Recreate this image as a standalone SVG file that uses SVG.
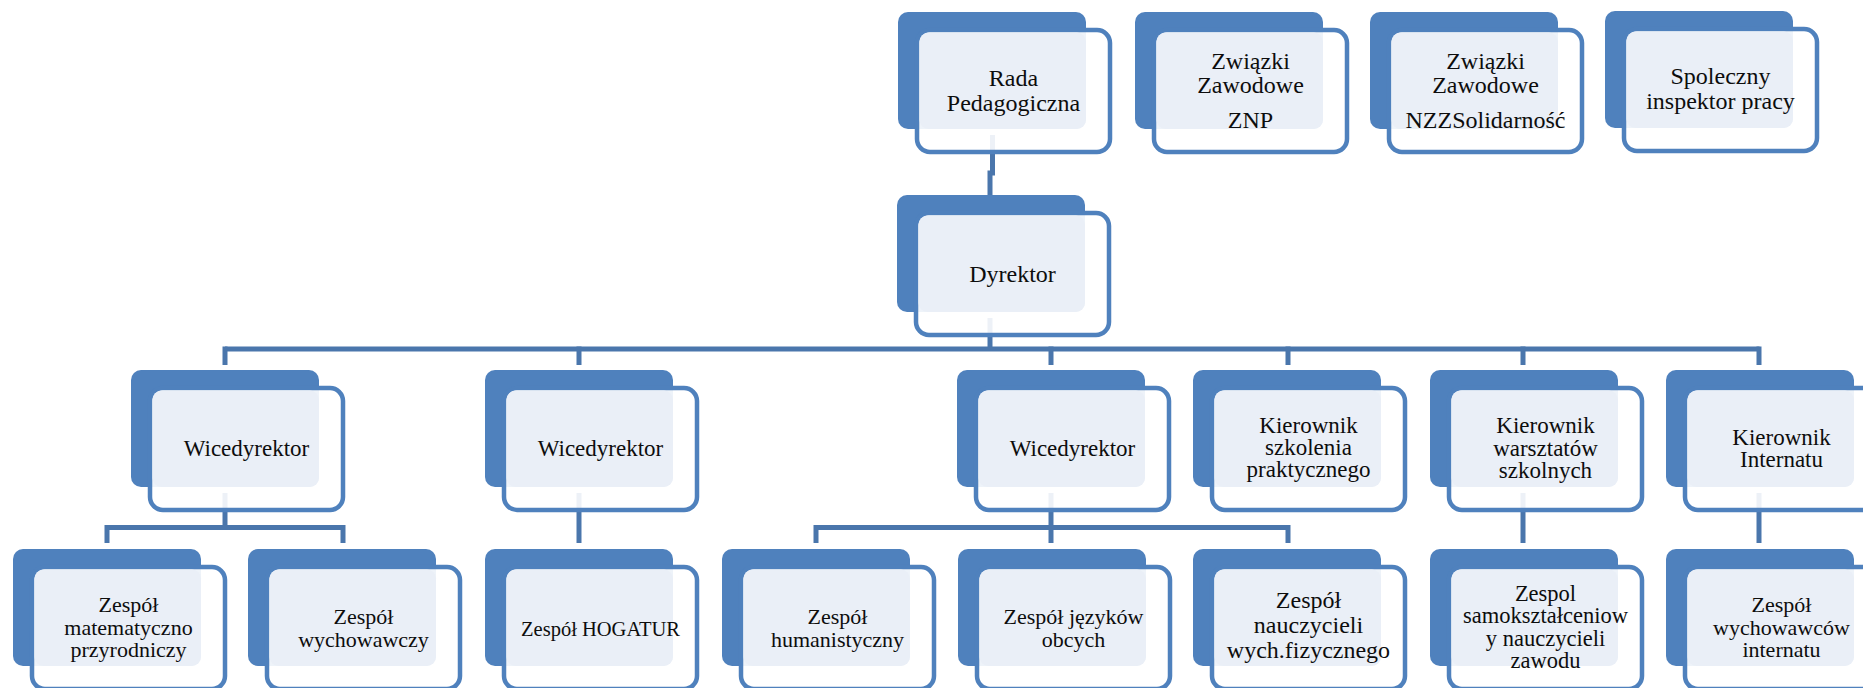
<svg xmlns="http://www.w3.org/2000/svg" width="1863" height="688" viewBox="0 0 1863 688">
<style>
.dk{fill:#4F81BD}
.ol{fill:#fff;fill-opacity:.9;stroke:#4F81BD;stroke-width:4.5}
.lt{fill:#EAEFF7}
.t{font-family:"Liberation Serif","Times New Roman",serif;fill:#0d0d0d;text-anchor:middle}
.c{stroke:#4A76AC;stroke-width:5;fill:none}
.s24{font-size:24px}.s23{font-size:23px}.s22{font-size:22px}
</style>
<defs>
<g id="box">
<rect class="dk" x="0" y="0" width="188" height="117" rx="10"/>
<rect class="ol" x="19" y="18" width="193" height="122" rx="13"/>
<rect class="lt" x="21.5" y="20.5" width="166.5" height="96.5" rx="9"/>
</g>
</defs>
<rect width="1863" height="688" fill="#fff"/>
<g id="connectors" class="c">
<path d="M992.5 135V173H990V197"/>
<path d="M990 318V349"/>
<path d="M225 349H1759.5"/>
<path d="M225 346.5V365M579 346.5V365M1051 346.5V365M1288 346.5V365M1523 346.5V365M1759 346.5V365"/>
<path d="M225 493V527.5"/>
<path d="M107 527.5H343M107 525V543M343 525V543"/>
<path d="M579 493V543"/>
<path d="M1051 493V543"/>
<path d="M816 527.5H1288M816 525V543M1288 525V543"/>
<path d="M1523 493V543"/>
<path d="M1759 493V543"/>
</g>
<g id="rada" transform="translate(898,12)"><use href="#box"/>
<text class="t s24" x="115.5" y="74">Rada</text><text class="t s24" x="115.5" y="99">Pedagogiczna</text></g>
<g id="znp" transform="translate(1135,12)"><use href="#box"/>
<text class="t s24" x="115.5" y="57">Związki</text><text class="t s24" x="115.5" y="81">Zawodowe</text><text class="t s24" x="115.5" y="116">ZNP</text></g>
<g id="nzz" transform="translate(1370,12)"><use href="#box"/>
<text class="t s24" x="115.5" y="57">Związki</text><text class="t s24" x="115.5" y="81">Zawodowe</text><text class="t s24" x="115.5" y="116">NZZSolidarność</text></g>
<g id="spoleczny" transform="translate(1605,11)"><use href="#box"/>
<text class="t s24" x="115.5" y="73">Spoleczny</text><text class="t s24" x="115.5" y="98">inspektor pracy</text></g>
<g id="dyrektor" transform="translate(897,195)"><use href="#box"/>
<text class="t s24" x="115.5" y="87">Dyrektor</text></g>
<g id="wice1" transform="translate(131,370)"><use href="#box"/>
<text class="t s23" x="115.5" y="86">Wicedyrektor</text></g>
<g id="wice2" transform="translate(485,370)"><use href="#box"/>
<text class="t s23" x="115.5" y="86">Wicedyrektor</text></g>
<g id="wice3" transform="translate(957,370)"><use href="#box"/>
<text class="t s23" x="115.5" y="86">Wicedyrektor</text></g>
<g id="kier-szkolenia" transform="translate(1193,370)"><use href="#box"/>
<text class="t s23" x="115.5" y="63">Kierownik</text><text class="t s23" x="115.5" y="85">szkolenia</text><text class="t s23" x="115.5" y="107">praktycznego</text></g>
<g id="kier-warsztatow" transform="translate(1430,370)"><use href="#box"/>
<text class="t s23" x="115.5" y="63">Kierownik</text><text class="t s23" x="115.5" y="86">warsztatów</text><text class="t s23" x="115.5" y="108">szkolnych</text></g>
<g id="kier-internatu" transform="translate(1666,370)"><use href="#box"/>
<text class="t s23" x="115.5" y="75">Kierownik</text><text class="t s23" x="115.5" y="97">Internatu</text></g>
<g id="zesp-mat" transform="translate(13,549)"><use href="#box"/>
<text class="t s22" x="115.5" y="63">Zespół</text><text class="t s22" x="115.5" y="86">matematyczno</text><text class="t s22" x="115.5" y="108">przyrodniczy</text></g>
<g id="zesp-wych" transform="translate(248,549)"><use href="#box"/>
<text class="t s22" x="115.5" y="75">Zespół</text><text class="t s22" x="115.5" y="98">wychowawczy</text></g>
<g id="zesp-hogatur" transform="translate(485,549)"><use href="#box"/>
<text class="t" style="font-size:20.5px" x="115.5" y="87">Zespół HOGATUR</text></g>
<g id="zesp-hum" transform="translate(722,549)"><use href="#box"/>
<text class="t s22" x="115.5" y="75">Zespół</text><text class="t s22" x="115.5" y="98">humanistyczny</text></g>
<g id="zesp-jez" transform="translate(958,549)"><use href="#box"/>
<text class="t s22" x="115.5" y="75">Zespół języków</text><text class="t s22" x="115.5" y="98">obcych</text></g>
<g id="zesp-wf" transform="translate(1193,549)"><use href="#box"/>
<text class="t s24" x="115.5" y="59">Zespół</text><text class="t s24" x="115.5" y="84">nauczycieli</text><text class="t s24" x="115.5" y="109">wych.fizycznego</text></g>
<g id="zesp-zawodu" transform="translate(1430,549)"><use href="#box"/>
<text class="t" style="font-size:22.5px" x="115.5" y="52">Zespol</text><text class="t" style="font-size:22.5px" x="115.5" y="74">samokształceniow</text><text class="t" style="font-size:22.5px" x="115.5" y="97">y nauczycieli</text><text class="t" style="font-size:22.5px" x="115.5" y="119">zawodu</text></g>
<g id="zesp-wych-int" transform="translate(1666,549)"><use href="#box"/>
<text class="t s22" x="115.5" y="63">Zespół</text><text class="t s22" x="115.5" y="86">wychowawców</text><text class="t s22" x="115.5" y="108">internatu</text></g>
</svg>
